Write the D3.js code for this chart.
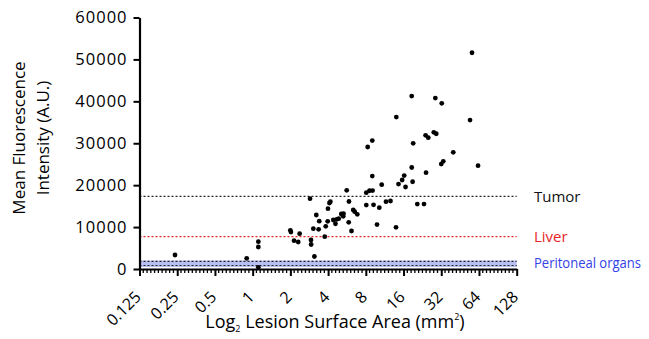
<!DOCTYPE html>
<html>
<head>
<meta charset="utf-8">
<script src="https://cdn.jsdelivr.net/npm/d3@7"></script>
<style>
  body { margin: 0; background: #fff; }
  svg { display: block; font-family: "Open Sans", sans-serif; }
</style>
</head>
<body>
<svg id="chart" width="649" height="339"></svg>
<script>
// lesion surface area (mm^2) and mean fluorescence intensity (A.U.)
const lesionArea = [
  0.240, 0.896, 1.11, 1.11, 1.11, 2.00, 2.02, 2.14, 2.31, 2.37,
  2.87, 2.92, 2.93, 3.11, 3.05, 3.22, 3.36, 3.40, 3.76, 3.83,
  3.99, 4.10, 4.17, 3.97, 4.40, 4.58, 4.69, 4.86, 5.10, 5.31,
  5.28, 5.63, 5.84, 5.87, 6.15, 6.35, 6.52, 6.84, 8.07, 8.07,
  8.28, 9.01, 9.01, 8.56, 9.06, 9.22, 9.83, 10.25, 10.71, 11.59,
  12.59, 13.93, 14.59, 14.01, 18.59, 28.7, 32.3, 54.3, 56.3, 19.1,
  24.0, 25.2, 27.9, 29.2, 39.9, 62.9, 32.0, 33.2, 18.6, 24.2,
  16.2, 15.6, 16.6, 18.9, 20.6, 23.3
];
const meanFluor = [
  3340, 2550, 6510, 5250, 400, 9230, 8820, 6750, 6440, 8420,
  16770, 6920, 5840, 2980, 9610, 12880, 9470, 11400, 7700, 10180,
  14380, 15740, 16050, 11380, 11690, 10800, 11850, 12000, 13120, 13190,
  12570, 18770, 11140, 16100, 9060, 14070, 13670, 13050, 18200, 15260,
  29100, 30650, 22180, 18670, 18720, 15310, 10610, 14620, 20110, 16050,
  16220, 9950, 20270, 36250, 41260, 40780, 39520, 35540, 51590, 29980,
  31890, 31320, 32600, 32270, 27830, 24640, 25040, 25690, 24210, 22970,
  22300, 21230, 19560, 20820, 15500, 15500
];

const xTicks = [0.125, 0.25, 0.5, 1, 2, 4, 8, 16, 32, 64, 128];
const yTicks = [0, 10000, 20000, 30000, 40000, 50000, 60000];

const tumorLevel = 17340;
const liverLevel = 7700;
const peritonealBand = [480, 2030];
const peritonealLines = [830, 1840];

const svg = d3.select("#chart");

const x = d3.scaleLog().base(2).domain([0.125, 128]).range([139.5, 516.7]);
const y = d3.scaleLinear().domain([0, 60000]).range([269, 17.5]);

// peritoneal band
svg.append("rect")
  .attr("x", x(0.125))
  .attr("y", y(peritonealBand[1]))
  .attr("width", x(128) - x(0.125))
  .attr("height", y(peritonealBand[0]) - y(peritonealBand[1]))
  .attr("fill", "#b7bff3");

const refLines = [
  { v: tumorLevel, color: "#222" },
  { v: liverLevel, color: "#e8232a" },
  { v: peritonealLines[0], color: "#222" },
  { v: peritonealLines[1], color: "#222" }
];
svg.append("g").selectAll("line")
  .data(refLines)
  .enter().append("line")
  .attr("x1", x(0.125))
  .attr("x2", x(128))
  .attr("y1", d => y(d.v))
  .attr("y2", d => y(d.v))
  .attr("stroke", d => d.color)
  .attr("stroke-width", 1.2)
  .attr("stroke-dasharray", "2,2");

// points
svg.append("g").selectAll("circle")
  .data(lesionArea.map((a, i) => [a, meanFluor[i]]))
  .enter().append("circle")
  .attr("cx", d => x(d[0]))
  .attr("cy", d => y(d[1]))
  .attr("r", 2.4)
  .attr("fill", "#000");

// y axis
const yAxis = svg.append("g")
  .attr("transform", `translate(${x(0.125)},0)`)
  .call(d3.axisLeft(y).tickValues(yTicks).tickFormat(d3.format("d")).tickSize(6).tickSizeOuter(0));
yAxis.select(".domain").attr("stroke-width", 2.2);
yAxis.selectAll(".tick line").attr("stroke-width", 2);
yAxis.selectAll("text")
  .attr("font-size", 16.5)
  .attr("letter-spacing", 1)
  .attr("x", -12)
  .attr("font-family", "Open Sans");

// x axis minor ticks
const minor = [];
for (let i = 0; i < xTicks.length - 1; i++) {
  for (let k = 1; k < 10; k++) minor.push(xTicks[i] * Math.pow(2, k / 10));
}
svg.append("g").selectAll("line")
  .data(minor)
  .enter().append("line")
  .attr("x1", d => x(d)).attr("x2", d => x(d))
  .attr("y1", y(0)).attr("y2", y(0) + 4)
  .attr("stroke", "#000")
  .attr("stroke-width", 1.3);

const xAxis = svg.append("g")
  .attr("transform", `translate(0,${y(0)})`)
  .call(d3.axisBottom(x).tickValues(xTicks).tickFormat(d => d).tickSize(7).tickSizeOuter(0));
xAxis.select(".domain").attr("stroke-width", 2.2);
xAxis.selectAll(".tick line").attr("stroke-width", 2);
xAxis.selectAll("text")
  .attr("font-size", 16)
  .attr("font-family", "Open Sans")
  .attr("text-anchor", "end")
  .attr("y", 0).attr("dy", 0)
  .attr("transform", "translate(2,29) rotate(-45)");

// threshold labels
const tagData = [
  { t: "Tumor", v: tumorLevel, c: "#111" },
  { t: "Liver", v: liverLevel, c: "#e8232a" },
  { t: "Peritoneal organs", v: 1300, c: "#3341e8" }
];
svg.append("g").selectAll("text")
  .data(tagData)
  .enter().append("text")
  .attr("x", 534)
  .attr("y", d => y(d.v))
  .attr("dy", "0.35em")
  .attr("font-size", 15)
  .attr("fill", d => d.c)
  .text(d => d.t)
  .filter(d => d.t.length > 10)
  .attr("font-size", 14)
  .attr("textLength", 107)
  .attr("lengthAdjust", "spacingAndGlyphs");

// axis titles
const yTitle = svg.append("text")
  .attr("transform", "translate(25,138) rotate(-90)")
  .attr("text-anchor", "middle")
  .attr("font-size", 17);
yTitle.append("tspan").attr("x", 0).attr("y", 0).text("Mean Fluorescence");
yTitle.append("tspan").attr("x", 0).attr("y", 24).text("Intensity (A.U.)");

const xTitle = svg.append("text")
  .attr("x", 335)
  .attr("y", 328)
  .attr("text-anchor", "middle")
  .attr("font-size", 18);
xTitle.append("tspan").text("Log");
xTitle.append("tspan").attr("font-size", 9).attr("dy", 4).text("2");
xTitle.append("tspan").attr("dy", -4).text(" Lesion Surface Area (mm");
xTitle.append("tspan").attr("font-size", 9).attr("dy", -8).text("2");
xTitle.append("tspan").attr("dy", 8).text(")");
</script>
</body>
</html>
